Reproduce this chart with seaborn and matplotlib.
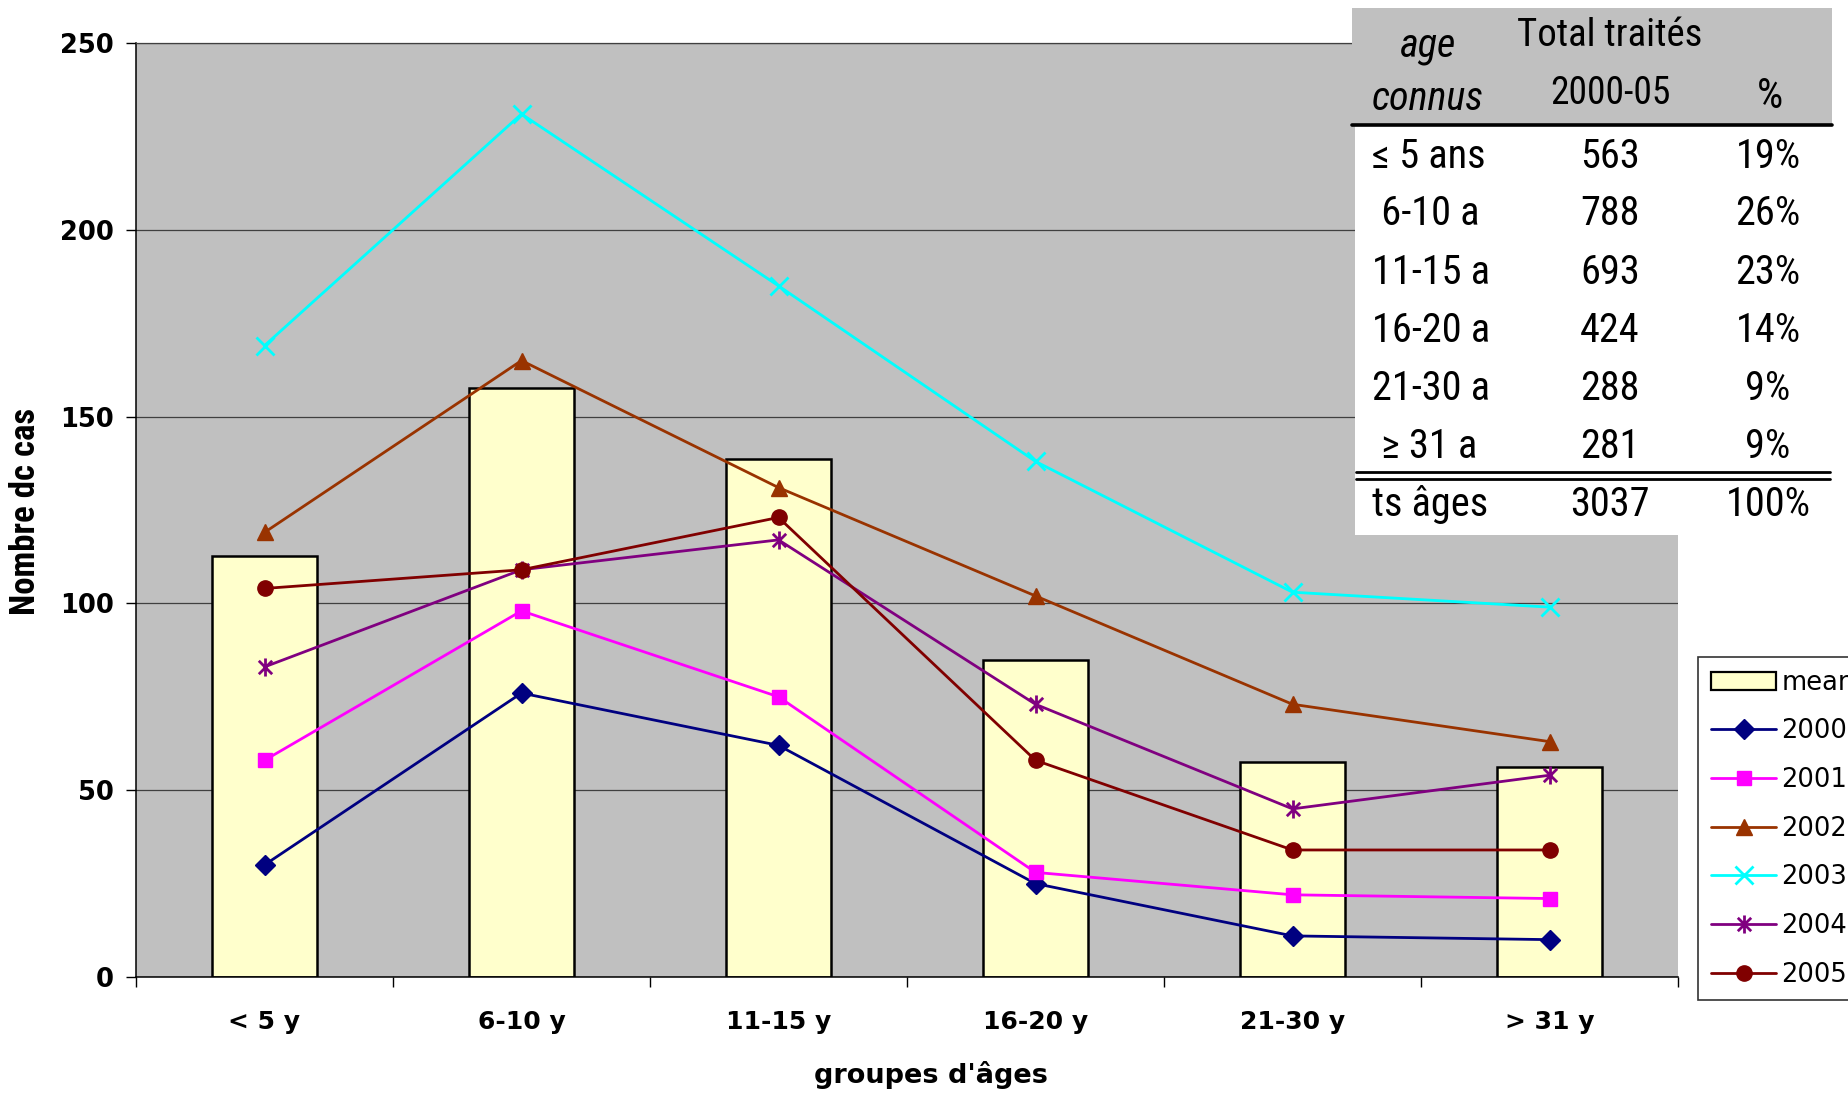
import numpy as np
import pandas as pd
import matplotlib
matplotlib.use("Agg")
import matplotlib.pyplot as plt
import seaborn as sns
from matplotlib import font_manager
from matplotlib.patches import Rectangle
from matplotlib.lines import Line2D
from matplotlib.path import Path

# ---- data -------------------------------------------------------------
groups = ["< 5 y", "6-10 y", "11-15 y", "16-20 y", "21-30 y", "> 31 y"]
years = ["2000", "2001", "2002", "2003", "2004", "2005"]

cases_2000 = [30, 76, 62, 25, 11, 10]
cases_2001 = [58, 98, 75, 28, 22, 21]
cases_2002 = [119, 165, 131, 102, 73, 63]
cases_2003 = [169, 231, 185, 138, 103, 99]
cases_2004 = [83, 109, 117, 73, 45, 54]
cases_2005 = [104, 109, 123, 58, 34, 34]
mean_cases = [112.6, 157.6, 138.6, 84.8, 57.6, 56.2]

table_groups = ["≤ 5 ans", " 6-10 a", "11-15 a", "16-20 a", "21-30 a", " ≥ 31 a"]
table_totals = ["563", "788", "693", "424", "288", "281"]
table_pct = ["19%", "26%", "23%", "14%", "9%", "9%"]
table_all_total = "3037"
table_all_pct = "100%"

# ---- style ------------------------------------------------------------
sns.set_theme(style="white")
plt.rcParams["font.family"] = ["DejaVu Sans"]


def narrow_font():
    """Pick a condensed face for the table, or a plain one with a size factor."""
    fl = font_manager.fontManager.ttflist
    for nm in ["Liberation Sans Narrow", "Arial Narrow", "Roboto Condensed",
               "Noto Sans Condensed", "Open Sans Condensed",
               "DejaVu Sans Condensed"]:
        if any(f.name == nm for f in fl):
            return dict(family=[nm, "DejaVu Sans"]), 1.0
    for nm in ["Noto Sans", "Open Sans", "Roboto", "DejaVu Sans"]:
        if any(f.name == nm and str(f.stretch) in ("condensed", "semi-condensed",
                                                   "extra-condensed")
               for f in fl):
            return dict(family=[nm, "DejaVu Sans"], stretch="condensed"), 1.0
    return dict(family=["Liberation Sans", "DejaVu Sans"]), 0.86


NARROW, SZ = narrow_font()

W, H = 1849, 1093
def fx(px):
    return px / W
def fy(py):
    return 1 - py / H

fig = plt.figure(figsize=(W / 100, H / 100), dpi=100)
ax = fig.add_axes([fx(136), fy(977), (1678 - 136) / W, (977 - 43) / H])
ax.set_facecolor("#c0c0c0")

pos = np.arange(len(groups))

# mean bars
bar_df = pd.DataFrame({"groupe": groups, "moyenne": mean_cases})
sns.barplot(data=bar_df, x="groupe", y="moyenne", ax=ax, color="#ffffcc",
            saturation=1, edgecolor="black", linewidth=1.8, width=0.41,
            zorder=2)

# asterisk marker: an x with a vertical stroke
star = Path([(-1, -1), (1, 1), (-1, 1), (1, -1), (0, -1.35), (0, 1.35)],
            [Path.MOVETO, Path.LINETO, Path.MOVETO, Path.LINETO,
             Path.MOVETO, Path.LINETO])

series = [
    ("2000", cases_2000, "#000080", "D", 10, 1.0),
    ("2001", cases_2001, "#ff00ff", "s", 10, 1.0),
    ("2002", cases_2002, "#993300", "^", 12, 1.0),
    ("2003", cases_2003, "#00ffff", "x", 13, 2.0),
    ("2004", cases_2004, "#800080", star, 13, 2.0),
    ("2005", cases_2005, "#800000", "o", 11, 1.0),
]

handles = [Rectangle((0, 0), 1, 1, facecolor="#ffffcc", edgecolor="black", lw=1.6)]
labels = ["mean"]
for yr, vals, col, mk, ms, mew in series:
    df = pd.DataFrame({"pos": pos, "cas": vals})
    face = "none" if mk is star else col
    sns.lineplot(data=df, x="pos", y="cas", ax=ax, color=col, lw=2.0,
                 marker=mk, markersize=ms, markeredgewidth=mew,
                 markeredgecolor=col, markerfacecolor=face,
                 zorder=3, legend=False)
    handles.append(Line2D([0], [0], color=col, lw=2.0, marker=mk,
                          markersize=ms, markeredgewidth=mew,
                          markeredgecolor=col, markerfacecolor=face))
    labels.append(yr)

# axes cosmetics
ax.set_xlim(-0.5, len(groups) - 0.5)
ax.set_ylim(0, 250)
ax.set_yticks(np.arange(0, 251, 50))
ax.set_xticks(pos)
ax.set_xticklabels(groups)
ax.set_xticks(np.arange(-0.5, len(groups), 1.0), minor=True)
ax.set_xlabel("")
ax.set_ylabel("")
ax.set_axisbelow(True)
ax.grid(axis="y", color="#404040", lw=0.9)
ax.grid(axis="x", visible=False)

ax.tick_params(axis="x", which="major", length=0, pad=24, labelsize=18)
ax.tick_params(axis="x", which="minor", length=7.5, width=1, color="black",
               direction="out", bottom=True)
ax.tick_params(axis="y", length=7, width=1, color="black", direction="out",
               left=True, pad=9, labelsize=18.5)
for lab in ax.get_xticklabels() + ax.get_yticklabels():
    lab.set_fontweight("bold")
    lab.set_color("black")

for side in ("left", "bottom"):
    ax.spines[side].set_color("black")
    ax.spines[side].set_linewidth(1.1)
ax.spines["top"].set_color("#404040")
ax.spines["top"].set_linewidth(0.9)
ax.spines["right"].set_visible(False)

fig.text(fx(26), fy(511), "Nombre dc cas", rotation=90, ha="center",
         va="center", fontsize=25 * SZ, fontweight="bold", color="black",
         **NARROW)
fig.text(fx(931), fy(1075), "groupes d'âges", ha="center", va="center",
         fontsize=19.5, fontweight="bold", color="black")

# ---- summary table ------------------------------------------------------
fig.add_artist(Rectangle((fx(1352), fy(125)), (1832 - 1352) / W, (125 - 8) / H,
                         transform=fig.transFigure, facecolor="#c0c0c0",
                         edgecolor="none", zorder=5))
fig.add_artist(Rectangle((fx(1355), fy(535)), (1830 - 1355) / W, (535 - 125) / H,
                         transform=fig.transFigure, facecolor="white",
                         edgecolor="none", zorder=5))
fig.add_artist(Line2D([fx(1352), fx(1832)], [fy(125), fy(125)],
                      transform=fig.transFigure, color="black", lw=2.6, zorder=6))
for yline in (472, 479):
    fig.add_artist(Line2D([fx(1356), fx(1830)], [fy(yline), fy(yline)],
                          transform=fig.transFigure, color="black", lw=2.0,
                          zorder=6))

tkw = dict(zorder=7, va="center", color="black", **NARROW)
fig.text(fx(1428), fy(46), "age", ha="center", fontsize=29 * SZ, style="italic", **tkw)
fig.text(fx(1428), fy(99), "connus", ha="center", fontsize=29 * SZ, style="italic", **tkw)
fig.text(fx(1610), fy(36), "Total traités", ha="center", fontsize=28 * SZ, **tkw)
fig.text(fx(1610), fy(94), "2000-05", ha="center", fontsize=27 * SZ, **tkw)
fig.text(fx(1770), fy(96), "%", ha="center", fontsize=30 * SZ, **tkw)

row_y = [156, 214, 272, 331, 389, 446]
for yy, g, tot, pct in zip(row_y, table_groups, table_totals, table_pct):
    fig.text(fx(1372), fy(yy), g, ha="left", fontsize=29 * SZ, **tkw)
    fig.text(fx(1610), fy(yy), tot, ha="center", fontsize=29 * SZ, **tkw)
    fig.text(fx(1768), fy(yy), pct, ha="center", fontsize=29 * SZ, **tkw)
fig.text(fx(1372), fy(504), "ts âges", ha="left", fontsize=29 * SZ, **tkw)
fig.text(fx(1610), fy(504), table_all_total, ha="center", fontsize=29 * SZ, **tkw)
fig.text(fx(1768), fy(504), table_all_pct, ha="center", fontsize=29 * SZ, **tkw)

# ---- legend -------------------------------------------------------------
leg = fig.legend(handles, labels, loc="upper left",
                 bbox_to_anchor=(fx(1698), fy(657)), borderaxespad=0,
                 frameon=True, fancybox=False, edgecolor="#333333",
                 facecolor="white", framealpha=1, fontsize=18.5,
                 handlelength=2.55, handletextpad=0.2, labelspacing=0.88,
                 borderpad=0.5)
leg.get_frame().set_linewidth(1.2)
for t in leg.get_texts():
    t.set_color("black")

fig.savefig("out.png", dpi=100)
